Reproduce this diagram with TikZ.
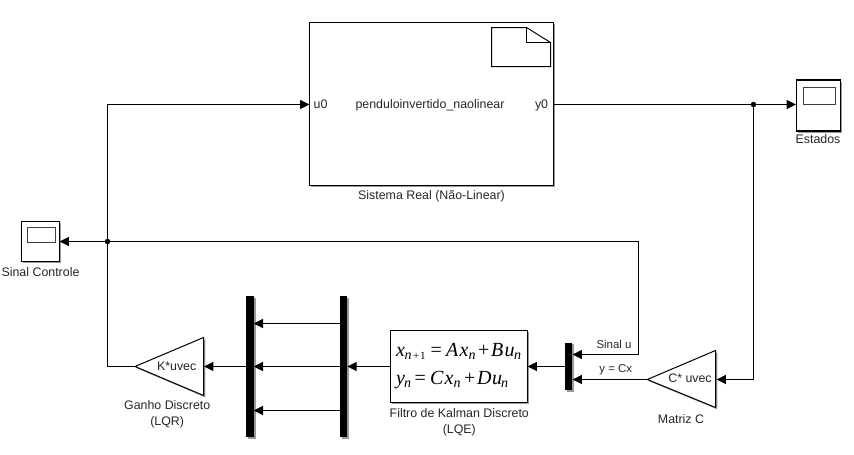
\documentclass[tikz,border=0pt]{standalone}
\usepackage{fontspec}
\setmainfont{Liberation Sans}
\newfontfamily\eqfont{Liberation Serif}
\usetikzlibrary{arrows.meta,shadows}
% glyph placed at a fixed offset inside one equation line
\newcommand{\putg}[2]{\makebox[0pt][l]{\hspace{#1pt}#2}}
\newcommand{\eqm}[1]{{\itshape #1}}
\newcommand{\eqsub}[1]{\raisebox{-3.5pt}{\fontsize{14}{14}\selectfont\itshape #1}}
\newcommand{\eqsubup}[1]{\raisebox{-3.5pt}{\fontsize{11}{13}\selectfont #1}}
\tikzset{
  x=1pt,y=-1pt,
  sig/.style={line width=1pt,draw=black},
  arr/.style={sig,-{Triangle[length=9.3pt,width=9pt]}},
  soft/.style={drop shadow={shadow xshift=1.8pt,shadow yshift=-1.8pt,fill=black,opacity=0.4}},
  block/.style={draw=black,fill=white,line width=1pt,outer sep=0pt,inner sep=0pt,soft},
  scopebox/.style={block,line width=1.2pt},
  screen/.style={draw=black!75,fill=white,line width=1pt,outer sep=0pt,inner sep=0pt},
  bar/.style={fill=black,outer sep=0pt,inner sep=0pt,soft},
  dot/.style={circle,fill=black,minimum size=5.5pt,inner sep=0pt,outer sep=0pt},
  lab/.style={font=\fontsize{12.4}{15.5}\selectfont,inner sep=0pt,align=center,text=black!85},
  eq/.style={font=\eqfont\fontsize{20}{20}\selectfont,inner sep=0pt,anchor=base west,text=black},
}
\begin{document}
\begin{tikzpicture}
\useasboundingbox (0,0) rectangle (854,455);
% blocks
\node[block,minimum width=244pt,minimum height=163pt] (plant) at (431.5,104) {};
\draw[line width=1pt,fill=white] (491.5,27.5) -- (526.5,27.5) -- (550.5,42.5) -- (550.5,66.5) -- (491.5,66.5) -- cycle;
\draw[line width=1pt] (526.5,27.5) -- (526.5,42.5) -- (550.5,42.5);
\node[scopebox,minimum width=38pt,minimum height=40pt] (sinalscope) at (40.5,241.5) {};
\node[screen,minimum width=28pt,minimum height=15pt] (sinalscreen) at (41.5,234.5) {};
\node[scopebox,minimum width=44pt,minimum height=51pt] (estscope) at (818.5,105.5) {};
\node[screen,minimum width=32pt,minimum height=17pt] (estscreen) at (819.5,95.5) {};
\node[block,minimum width=137pt,minimum height=72pt] (kalman) at (459,366.5) {};
\node[bar,minimum width=7.4pt,minimum height=47.7pt] (mux) at (568.7,366.5) {};
\node[bar,minimum width=7.4pt,minimum height=140.7pt] (busa) at (343.7,366.5) {};
\node[bar,minimum width=7.6pt,minimum height=140.7pt] (busb) at (249.9,366.5) {};
% gains
\draw[line width=1pt,fill=white,soft] (135,366.5) -- (203.5,337.5) -- (203.5,395.5) -- cycle;
\draw[line width=1pt,fill=white,soft] (647.3,379.5) -- (715.5,350.5) -- (715.5,407.5) -- cycle;
\coordinate (gkT) at (135,366.5);
\coordinate (gkR) at (204,366.5);
\coordinate (gcT) at (647.3,379.5);
\coordinate (gcR) at (716.5,379.5);
% junctions
\node[dot] (jcontrol) at (107.5,241.5) {};
\node[dot] (jstate) at (753.5,104.5) {};
\coordinate (ctrlturn) at (638.5,241.5);
\coordinate (muxu) at (572.6,354.5);
\coordinate (muxy) at (572.6,379.5);
\coordinate (estin) at (796,104.5);
% connectors
\draw[arr] (jcontrol) -- (sinalscope.east |- jcontrol);
\draw[arr] (gkT) -- (jcontrol |- gkT) -- (jcontrol.center) |- (plant.west |- jstate);
\draw[sig] (plant.east |- jstate) -- (jstate);
\draw[arr] (jstate) -- (estin);
\draw[arr] (jstate) |- (gcR);
\draw[arr] (jcontrol) -- (ctrlturn) |- (muxu);
\draw[arr] (gcT) -- (muxy);
\draw[arr] (mux.west) -- (kalman.east);
\draw[arr] (kalman.west) -- (busa.east);
\draw[arr] (busb.west) -- (gkR);
\draw[arr] (busa.west |- 0,323.5) -- (busb.east |- 0,323.5);
\draw[arr] (busa.west) -- (busb.east);
\draw[arr] (busa.west |- 0,410.5) -- (busb.east |- 0,410.5);
% texts
\node[lab,anchor=base west] (u0) at (313.5,108.5) {u0};
\node[lab,anchor=base east] (y0) at (548.3,108.5) {y0};
\node[lab,anchor=base] (pname) at (430,108.5) {penduloinvertido\_naolinear};
\node[lab] (plabel) at (431.5,196.7) {Sistema Real (Não-Linear)};
\node[lab] (estlabel) at (818,139.5) {Estados};
\node[lab] (sclabel) at (40.5,272) {Sinal Controle};
\node[lab] (gkname) at (176.7,366.3) {K*uvec};
\node[lab] (gklabel) at (167.2,414.3) {Ganho Discreto\\(LQR)};
\node[lab] (gcname) at (690,378.7) {C* uvec};
\node[lab] (gclabel) at (681,419) {Matriz C};
\node[lab] (klabel) at (459.3,422.5) {Filtro de Kalman Discreto\\(LQE)};
\node[lab,font=\fontsize{11.4}{13}\selectfont] (ulabel) at (614,344) {Sinal u};
\node[lab,font=\fontsize{11.4}{13}\selectfont] (ylabel) at (615.7,369.3) {y = Cx};
\node[eq] (eqone) at (396,356) {\putg{0}{\eqm{x}}\putg{8.5}{\eqsub{n}}\putg{17}{\eqsubup{+}}\putg{24}{\eqsubup{1}}\putg{34.5}{=}\putg{50}{\eqm{A}}\putg{63.5}{\eqm{x}}\putg{72.5}{\eqsub{n}}\putg{82}{+}\putg{95}{\eqm{B}}\putg{108.5}{\eqm{u}}\putg{118}{\eqsub{n}}\phantom{x}};
\node[eq] (eqtwo) at (396,384) {\putg{0}{\eqm{y}}\putg{8}{\eqsub{n}}\putg{18.5}{=}\putg{34}{\eqm{C}}\putg{48.5}{\eqm{x}}\putg{57.5}{\eqsub{n}}\putg{68}{+}\putg{81}{\eqm{D}}\putg{96}{\eqm{u}}\putg{105}{\eqsub{n}}\phantom{x}};
\end{tikzpicture}
\end{document}
